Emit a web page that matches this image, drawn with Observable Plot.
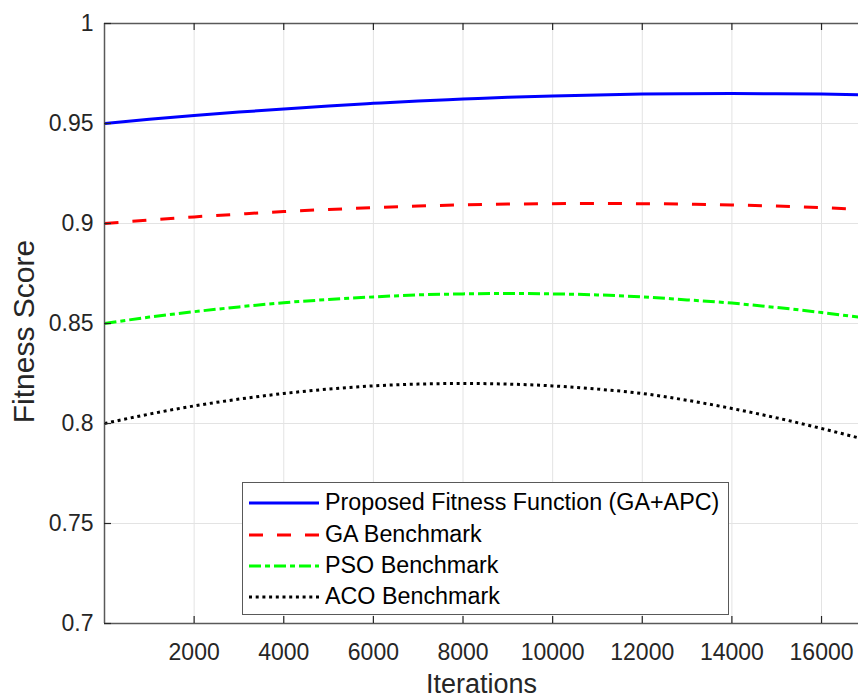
<!DOCTYPE html>
<html><head><meta charset="utf-8">
<script src="https://cdn.jsdelivr.net/npm/d3@7"></script>
<script src="https://cdn.jsdelivr.net/npm/@observablehq/plot@0.6"></script>
<style>
body{margin:0;background:#fff;}
#wrap{position:relative;width:858px;height:698px;font-family:"Liberation Sans",Arial,sans-serif;}
#legend{position:absolute;left:242px;top:482px;width:487px;height:133px;border:1.5px solid #595959;background:#fff;box-sizing:border-box;}
#legend .row{position:absolute;left:6px;height:31px;display:flex;align-items:center;font-size:23.3px;color:#000;white-space:nowrap;}
#legend svg{margin-right:6px;}
</style></head><body><div id="wrap"></div>
<script>
const iterations = [0,1000,2000,3000,4000,5000,6000,7000,8000,9000,10000,11000,12000,13000,14000,15000,16000,17000];
const proposed = [0.950,0.9521,0.9540,0.9557,0.9573,0.9588,0.9601,0.9613,0.9622,0.9631,0.9638,0.9643,0.9647,0.9649,0.9650,0.9649,0.9647,0.9643];
const gaBench  = [0.900,0.9017,0.9033,0.9047,0.9060,0.9070,0.9079,0.9087,0.9093,0.9097,0.9099,0.9100,0.9099,0.9097,0.9093,0.9087,0.9079,0.9070];
const psoBench = [0.850,0.8532,0.8559,0.8583,0.8604,0.8620,0.8633,0.8643,0.8648,0.8650,0.8648,0.8643,0.8633,0.8618,0.8602,0.8580,0.8555,0.8527];
const acoBench = [0.800,0.8047,0.8088,0.8122,0.8150,0.8172,0.8188,0.8197,0.8200,0.8197,0.8188,0.8172,0.8150,0.8116,0.8075,0.8028,0.7975,0.7918];
const seriesNames = ["Proposed Fitness Function (GA+APC)","GA Benchmark","PSO Benchmark","ACO Benchmark"];
const seriesValues = [proposed, gaBench, psoBench, acoBench];
const seriesColors = ["#0000ff","#ff0000","#00ff00","#000000"];
const seriesDash = [null,"14,14","12,4,5,4","3,3.7"];
const xTicks = [2000,4000,6000,8000,10000,12000,14000,16000];
const yTicks = [0.7,0.75,0.8,0.85,0.9,0.95,1];
const xLabel = "Iterations";
const yLabel = "Fitness Score";

const axisColor = "#595959";
const textColor = "#262626";
const font = '"Liberation Sans", Arial, sans-serif';

const lineMarks = seriesValues.map((vals, i) => Plot.line(iterations.map((x, j) => ({x, y: vals[j]})), {
  x: "x", y: "y", stroke: seriesColors[i], strokeWidth: 3,
  strokeDasharray: seriesDash[i] ?? undefined, strokeLinecap: "butt", clip: true, curve: "monotone-x"
}));

const chart = Plot.plot({
  width: 858, height: 698,
  marginLeft: 104, marginRight: 0, marginTop: 23, marginBottom: 75,
  style: {fontFamily: font, background: "#fff", overflow: "visible"},
  x: {domain: [0, 16825]},
  y: {domain: [0.7, 1]},
  marks: [
    Plot.gridX(xTicks, {stroke: "#e3e3e3", strokeOpacity: 1, strokeWidth: 1}),
    Plot.gridY(yTicks, {stroke: "#e3e3e3", strokeOpacity: 1, strokeWidth: 1}),
    ...lineMarks,
    Plot.ruleY([0.7, 1], {stroke: axisColor, strokeWidth: 1.5}),
    Plot.ruleX([0], {stroke: axisColor, strokeWidth: 1.5}),
    Plot.tickX(xTicks, {x: d => d, insetTop: 593, stroke: textColor, strokeWidth: 1.2}),
    Plot.tickX(xTicks, {x: d => d, insetBottom: 593, stroke: textColor, strokeWidth: 1.2}),
    Plot.tickY(yTicks, {y: d => d, insetRight: 747, stroke: textColor, strokeWidth: 1.2}),
    Plot.axisX(xTicks, {tickSize: 0, tickPadding: 20, fontSize: 23, fill: textColor, label: null, tickFormat: d => String(d)}),
    Plot.axisY(yTicks, {tickSize: 0, tickPadding: 11, fontSize: 23, fill: textColor, label: null, tickFormat: d => String(d)}),
    Plot.text([xLabel], {frameAnchor: "bottom", dy: 61, fontSize: 27, fill: textColor, lineAnchor: "middle", textAnchor: "middle", text: d => d}),
    Plot.text([yLabel], {frameAnchor: "left", dx: -80, dy: 8, rotate: -90, fontSize: 30, fill: textColor, lineAnchor: "middle", textAnchor: "middle", text: d => d})
  ]
});

const wrap = document.getElementById("wrap");
wrap.appendChild(chart);

const legend = document.createElement("div");
legend.id = "legend";
const rowTops = [4, 36, 67, 98];
seriesNames.forEach((name, i) => {
  const row = document.createElement("div");
  row.className = "row";
  row.style.top = rowTops[i] + "px";
  const dash = seriesDash[i] ? `stroke-dasharray="${seriesDash[i]}"` : "";
  row.innerHTML = `<svg width="70" height="10"><line x1="0" y1="5" x2="70" y2="5" stroke="${seriesColors[i]}" stroke-width="3" ${dash}/></svg><span>${name}</span>`;
  legend.appendChild(row);
});
wrap.appendChild(legend);
</script>
</body></html>
